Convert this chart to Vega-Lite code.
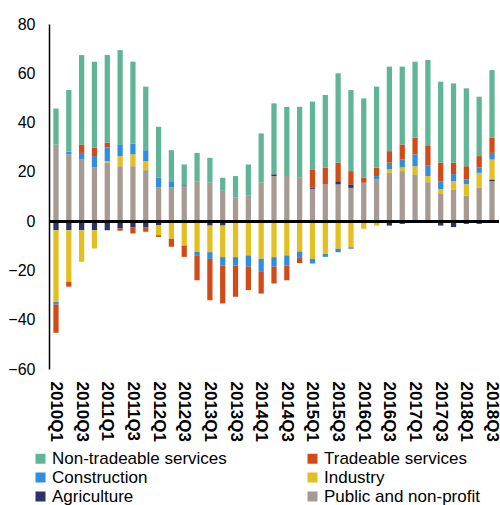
{
  "$schema": "https://vega.github.io/schema/vega-lite/v6.json",
  "autosize": "none",
  "width": 450,
  "height": 345,
  "padding": {"left": 49, "top": 24, "right": 1, "bottom": 136},
  "config": {
    "view": {"stroke": null},
    "font": "Liberation Sans",
    "axis": {"grid": false, "labelFont": "Liberation Sans", "labelColor": "#000"}
  },
  "data": {
    "values": [
      {"q":"2010Q1","pub":31.0,"agr":-3.7,"ind":-29.1,"con":-1.0,"tra":-11.5,"nts":14.7},
      {"q":"2010Q2","pub":27.1,"agr":-3.7,"ind":-20.9,"con":1.1,"tra":-2.0,"nts":25.0},
      {"q":"2010Q3","pub":25.0,"agr":-3.7,"ind":-12.8,"con":2.7,"tra":3.4,"nts":36.3},
      {"q":"2010Q4","pub":21.8,"agr":-3.7,"ind":-7.4,"con":4.6,"tra":3.4,"nts":34.9},
      {"q":"2011Q1","pub":23.7,"agr":-3.7,"ind":0.7,"con":5.5,"tra":1.9,"nts":35.6},
      {"q":"2011Q2","pub":22.3,"agr":-3.0,"ind":4.1,"con":4.5,"tra":-0.9,"nts":38.5},
      {"q":"2011Q3","pub":22.3,"agr":-2.6,"ind":4.8,"con":4.4,"tra":-2.4,"nts":33.2},
      {"q":"2011Q4","pub":20.7,"agr":-2.6,"ind":3.7,"con":4.4,"tra":-1.7,"nts":25.8},
      {"q":"2012Q1","pub":13.7,"agr":-1.6,"ind":-4.1,"con":3.9,"tra":-0.7,"nts":20.7},
      {"q":"2012Q2","pub":13.7,"agr":-0.7,"ind":-6.5,"con":2.5,"tra":-3.2,"nts":12.6},
      {"q":"2012Q3","pub":14.3,"agr":-0.9,"ind":-9.0,"con":0.7,"tra":-4.6,"nts":8.0},
      {"q":"2012Q4","pub":16.2,"agr":-0.9,"ind":-11.6,"con":-1.6,"tra":-9.9,"nts":11.5},
      {"q":"2013Q1","pub":15.6,"agr":-1.8,"ind":-10.8,"con":-2.7,"tra":-16.8,"nts":10.1},
      {"q":"2013Q2","pub":12.3,"agr":-1.8,"ind":-12.8,"con":-3.4,"tra":-15.4,"nts":5.3},
      {"q":"2013Q3","pub":9.5,"agr":-0.3,"ind":-14.3,"con":-3.4,"tra":-12.7,"nts":8.8},
      {"q":"2013Q4","pub":10.3,"agr":0,"ind":-13.9,"con":-4.6,"tra":-9.5,"nts":12.7},
      {"q":"2014Q1","pub":15.6,"agr":0,"ind":-15.3,"con":-5.3,"tra":-8.8,"nts":20.0},
      {"q":"2014Q2","pub":18.3,"agr":0.7,"ind":-14.6,"con":-3.9,"tra":-6.8,"nts":28.8},
      {"q":"2014Q3","pub":18.3,"agr":0,"ind":-13.9,"con":-4.1,"tra":-6.0,"nts":28.1},
      {"q":"2014Q4","pub":17.6,"agr":-0.9,"ind":-11.4,"con":-2.6,"tra":-2.1,"nts":28.8},
      {"q":"2015Q1","pub":13.1,"agr":0.4,"ind":-15.3,"con":-1.9,"tra":7.5,"nts":27.5},
      {"q":"2015Q2","pub":14.9,"agr":0,"ind":-13.3,"con":-1.2,"tra":6.8,"nts":29.5},
      {"q":"2015Q3","pub":14.9,"agr":1.3,"ind":-11.2,"con":-1.4,"tra":7.5,"nts":36.3},
      {"q":"2015Q4","pub":13.5,"agr":1.4,"ind":-10.6,"con":-0.6,"tra":5.4,"nts":32.9},
      {"q":"2016Q1","pub":15.6,"agr":0,"ind":-3.1,"con":0,"tra":2.0,"nts":32.2},
      {"q":"2016Q2","pub":16.9,"agr":-0.9,"ind":-0.9,"con":1.4,"tra":3.4,"nts":32.9},
      {"q":"2016Q3","pub":19.6,"agr":-1.8,"ind":1.4,"con":2.7,"tra":4.7,"nts":34.3},
      {"q":"2016Q4","pub":20.3,"agr":-1.1,"ind":1.5,"con":3.2,"tra":6.1,"nts":31.6},
      {"q":"2017Q1","pub":19.0,"agr":0,"ind":3.3,"con":4.8,"tra":6.7,"nts":30.9},
      {"q":"2017Q2","pub":15.8,"agr":0,"ind":2.5,"con":4.2,"tra":8.0,"nts":34.9},
      {"q":"2017Q3","pub":11.0,"agr":-1.8,"ind":2.0,"con":3.2,"tra":7.5,"nts":32.9},
      {"q":"2017Q4","pub":12.9,"agr":-2.4,"ind":3.3,"con":2.9,"tra":4.6,"nts":32.2},
      {"q":"2018Q1","pub":10.3,"agr":-1.1,"ind":4.7,"con":1.9,"tra":5.4,"nts":31.6},
      {"q":"2018Q2","pub":13.5,"agr":-1.1,"ind":6.1,"con":2.2,"tra":4.6,"nts":24.1},
      {"q":"2018Q3","pub":16.2,"agr":0.7,"ind":8.1,"con":2.7,"tra":6.1,"nts":27.5}
    ]
  },
  "layer": [
    {
      "transform": [
        {"fold": ["pub","agr","ind","con","tra","nts"], "as": ["key","value"]},
        {"calculate": "indexof(['pub','agr','ind','con','tra','nts'], datum.key)", "as": "rank"},
        {"calculate": "{'pub':'Public and non-profit','agr':'Agriculture','ind':'Industry','con':'Construction','tra':'Tradeable services','nts':'Non-tradeable services'}[datum.key]", "as": "sector"}
      ],
      "mark": {"type": "bar"},
      "encoding": {
        "x": {
          "field": "q", "type": "ordinal",
          "scale": {"paddingInner": 0.59, "paddingOuter": 0.34},
          "axis": {
            "title": null, "orient": "bottom", "ticks": false, "domain": false,
            "labelAngle": 90, "labelFontSize": 17, "labelFontWeight": "bold",
            "labelPadding": 12, "labelOverlap": false,
            "values": ["2010Q1","2010Q3","2011Q1","2011Q3","2012Q1","2012Q3","2013Q1","2013Q3","2014Q1","2014Q3","2015Q1","2015Q3","2016Q1","2016Q3","2017Q1","2017Q3","2018Q1","2018Q3"]
          }
        },
        "y": {
          "field": "value", "type": "quantitative", "stack": "zero",
          "scale": {"domain": [-60, 80], "nice": false},
          "axis": {
            "title": null, "values": [-60,-40,-20,0,20,40,60,80], "ticks": false,
            "domainColor": "#000", "domainWidth": 1.5, "labelFontSize": 16, "labelPadding": 14
          }
        },
        "color": {
          "field": "sector", "type": "nominal",
          "scale": {
            "domain": ["Non-tradeable services","Construction","Agriculture","Tradeable services","Industry","Public and non-profit"],
            "range": ["#60b596","#2f8ee0","#2b3468","#d24b17","#e3bf1f","#a69a92"]
          },
          "legend": {
            "title": null, "orient": "none", "legendX": -17, "legendY": 426,
            "columns": 2, "columnPadding": 77, "rowPadding": 1,
            "symbolType": "square", "symbolSize": 100, "symbolStrokeWidth": 0,
            "labelFontSize": 17, "labelOffset": 3, "labelLimit": 300, "labelColor": "#000"
          }
        },
        "order": {"field": "rank", "type": "quantitative"}
      }
    },
    {
      "mark": {"type": "rule", "color": "#000", "strokeWidth": 2},
      "encoding": {"y": {"datum": 0, "type": "quantitative"}}
    }
  ]
}
